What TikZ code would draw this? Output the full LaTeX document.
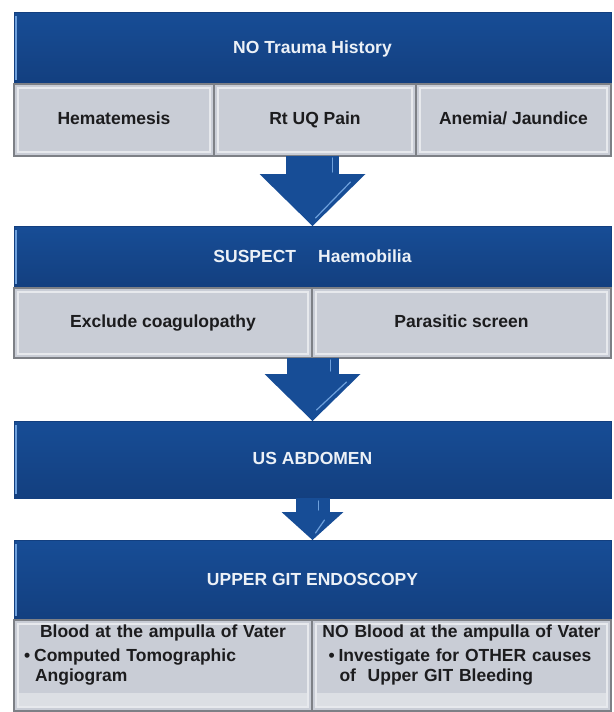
\documentclass[tikz,border=0pt]{standalone}
\usepackage{fontspec}
\setmainfont{Liberation Sans}
\usetikzlibrary{arrows.meta}

\definecolor{hdrblue}{RGB}{23,77,150}
\definecolor{hdrdark}{RGB}{19,63,127}
\definecolor{hdrlight}{RGB}{110,160,220}
\definecolor{subgray}{RGB}{201,205,214}
\definecolor{subedge}{RGB}{125,128,134}
\definecolor{subink}{RGB}{28,28,30}

\begin{document}
\begin{tikzpicture}[x=1pt,y=-1pt,
  hdr/.style={draw=hdrdark,line width=0.8pt,top color=hdrblue,bottom color=hdrdark,
    text=white!92!hdrblue,font=\fontsize{17.5}{21}\selectfont\bfseries,
    text height=12.7pt,text depth=2pt,
    anchor=north west,inner sep=0pt,outer sep=0pt,minimum width=597pt,
    path picture={\draw[hdrlight,line width=1.5pt]
      ([shift={(2pt,-4pt)}]path picture bounding box.north west) --
      ([shift={(2pt,4pt)}]path picture bounding box.south west);}},
  subbox/.style={draw=subedge,line width=1.2pt,fill=subgray,text=subink,
    font=\fontsize{17.5}{21}\selectfont\bfseries,
    text height=12.7pt,text depth=3.7pt,
    anchor=north west,inner sep=0pt,outer sep=0pt,
    path picture={\draw[white!55!subgray,line width=1.6pt]
      ([shift={(4pt,-4pt)}]path picture bounding box.north west) rectangle
      ([shift={(-4pt,4pt)}]path picture bounding box.south east);}},
  lowbox/.style={subbox,
    path picture={\fill[white!35!subgray]
      ([shift={(4pt,18pt)}]path picture bounding box.south west) rectangle
      ([shift={(-4pt,4pt)}]path picture bounding box.south east);
      \draw[white!55!subgray,line width=1.6pt]
      ([shift={(4pt,-4pt)}]path picture bounding box.north west) rectangle
      ([shift={(-4pt,4pt)}]path picture bounding box.south east);}},
  bodytext/.style={text=subink,font=\fontsize{17.5}{20}\selectfont\bfseries,
    align=left,anchor=north,inner sep=0pt},
  blockarrow/.style={draw=hdrblue,line cap=butt},
  glint/.style={hdrlight,line width=1.2pt,line cap=round}]
  \useasboundingbox (0,0) rectangle (613,712);

  % Block 1: history and presenting signs
  \node[hdr,minimum height=72pt] (hdr1) at (14,12) {NO Trauma History};
  \foreach \x/\w/\t [count=\i] in {14/200/Hematemesis,214/202/Rt UQ Pain,416/195/{Anemia/ Jaundice}}
    \node[subbox,minimum width=\w pt,minimum height=72pt] (s1\i) at (\x,84) {\t};

  % Block 2: suspicion
  \node[hdr,minimum height=62pt] (hdr2) at (14,226) {SUSPECT\hspace{22pt}Haemobilia};
  \node[subbox,minimum width=298pt,minimum height=70pt] (s21) at (14,288) {Exclude coagulopathy};
  \node[subbox,minimum width=299pt,minimum height=70pt] (s22) at (312,288) {Parasitic screen};

  % Block 3 and 4: imaging, endoscopy
  \node[hdr,minimum height=77pt] (hdr3) at (14,421) {US ABDOMEN};
  \node[hdr,minimum height=80pt] (hdr4) at (14,540) {UPPER GIT ENDOSCOPY};
  \node[lowbox,minimum width=298pt,minimum height=91pt] (s41) at (14,620) {};
  \node[lowbox,minimum width=299pt,minimum height=91pt] (s42) at (312,620) {};
  \node[bodytext,text width=278pt] (t41) at ([yshift=-5pt]s41.north) {%
    \centerline{Blood at the ampulla of Vater}\par\vspace{4pt}
    \textbullet\hspace{4pt}Computed Tomographic\\\hspace*{11pt}Angiogram};
  \node[bodytext,text width=282pt] (t42) at ([yshift=-5pt]s42.north) {%
    \centerline{NO Blood at the ampulla of Vater}\par\vspace{4pt}
    \hspace*{8pt}\textbullet\hspace{4pt}Investigate for OTHER causes\\\hspace*{19pt}of\ \ Upper GIT Bleeding};

  % block arrows
  \draw[blockarrow,line width=53pt,-{Triangle[width=106pt,length=52pt,line width=0pt]}]
    (hdr2.north |- s12.south) -- (hdr2.north);
  \draw[blockarrow,line width=52pt,-{Triangle[width=96pt,length=47pt,line width=0pt]}]
    (hdr3.north |- s21.south) -- (hdr3.north);
  \draw[blockarrow,line width=34pt,-{Triangle[width=62pt,length=28pt,line width=0pt]}]
    (hdr3.south) -- (hdr4.north);
  % light glints on the arrows
  \draw[glint] ([shift={(20pt,-2pt)}]hdr2.north |- s12.south) -- ([shift={(20pt,-16pt)}]hdr2.north |- s12.south);
  \draw[glint] ([shift={(38pt,44pt)}]hdr2.north) -- ([shift={(3pt,8pt)}]hdr2.north);
  \draw[glint] ([shift={(18pt,-2pt)}]hdr3.north |- s21.south) -- ([shift={(18pt,-13pt)}]hdr3.north |- s21.south);
  \draw[glint] ([shift={(34pt,39pt)}]hdr3.north) -- ([shift={(4pt,11pt)}]hdr3.north);
  \draw[glint] ([shift={(6pt,-3pt)}]hdr3.south) -- ([shift={(6pt,-12pt)}]hdr3.south);
  \draw[glint] ([shift={(12pt,20pt)}]hdr4.north) -- ([shift={(3pt,7pt)}]hdr4.north);
\end{tikzpicture}
\end{document}
